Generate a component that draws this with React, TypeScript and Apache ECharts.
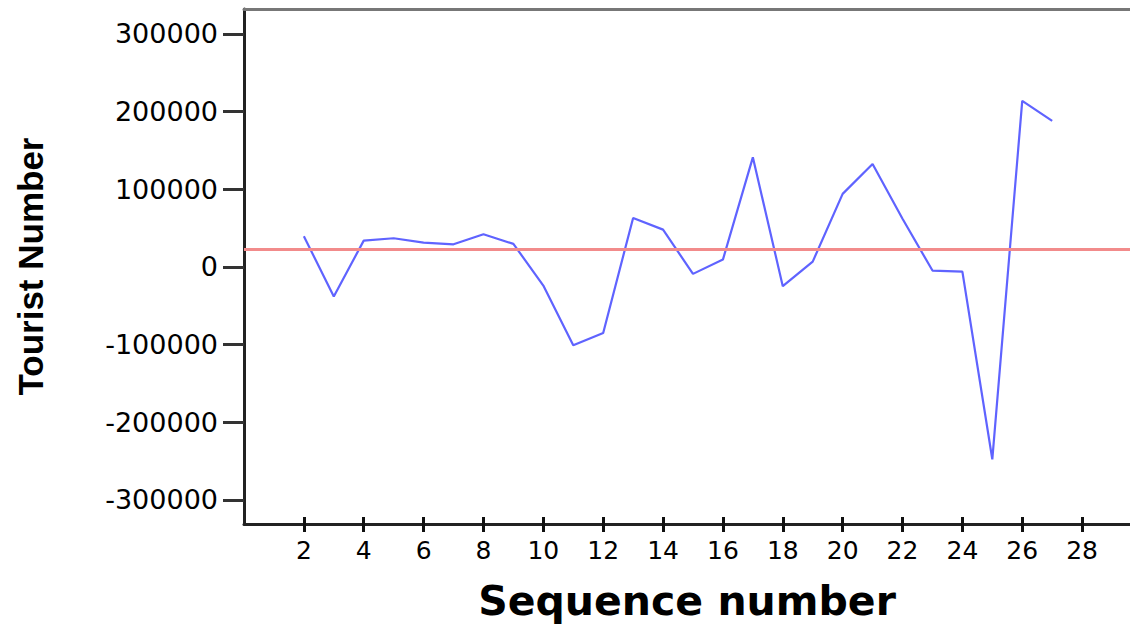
import React, { useEffect, useRef } from "react";
import * as echarts from "echarts";

const sequence = [2, 3, 4, 5, 6, 7, 8, 9, 10, 11, 12, 13, 14, 15, 16, 17, 18, 19, 20, 21, 22, 23, 24, 25, 26, 27];
const tourists = [
  39500, -38000, 33800, 36900, 31300, 29100, 42000, 29600, -24000, -101000,
  -85000, 63000, 48000, -9000, 9400, 141000, -24800, 6800, 94000, 132400,
  62000, -4700, -6000, -247700, 213800, 188000,
];
const meanValue = 23000;
const yTicks = [-300000, -200000, -100000, 0, 100000, 200000, 300000];
const xTicks = [2, 4, 6, 8, 10, 12, 14, 16, 18, 20, 22, 24, 26, 28];

export default function App() {
  const ref = useRef<HTMLDivElement>(null);
  useEffect(() => {
    if (!ref.current) return;
    const chart = echarts.init(ref.current, null, { renderer: "svg" });
    const font = "DejaVu Sans";
    const xMin = 0;
    const xMax = 29.6;
    chart.setOption({
      animation: false,
      backgroundColor: "#ffffff",
      grid: { left: 244, top: 9, right: 0, bottom: 101, containLabel: false },
      xAxis: [
        {
          type: "value",
          position: "bottom",
          min: xMin,
          max: xMax,
          name: "Sequence number",
          nameLocation: "middle",
          nameGap: 56,
          nameTextStyle: { fontFamily: font, fontWeight: "bold", fontSize: 41, color: "#000" },
          axisLine: { show: true, onZero: false, lineStyle: { color: "#222", width: 3 } },
          axisTick: { show: true, inside: false, length: 8, customValues: xTicks, lineStyle: { color: "#111", width: 3 } },
          axisLabel: { show: true, customValues: xTicks, margin: 14, fontFamily: font, fontSize: 25, color: "#000" },
          splitLine: { show: false },
        },
        {
          type: "value",
          position: "bottom",
          min: xMin,
          max: xMax,
          axisLine: { show: false, onZero: false },
          axisTick: { show: true, inside: true, length: 7, customValues: xTicks, lineStyle: { color: "#111", width: 3 } },
          axisLabel: { show: false },
          splitLine: { show: false },
        },
        {
          type: "value",
          position: "top",
          min: xMin,
          max: xMax,
          axisLine: { show: true, onZero: false, lineStyle: { color: "#777", width: 3 } },
          axisTick: { show: false },
          axisLabel: { show: false },
          splitLine: { show: false },
        },
      ],
      yAxis: {
        type: "value",
        min: -331000,
        max: 332000,
        name: "Tourist Number",
        nameLocation: "middle",
        nameGap: 196,
        nameTextStyle: { fontFamily: "Liberation Sans", fontWeight: "bold", fontSize: 35, color: "#000" },
        axisLine: { show: true, onZero: false, lineStyle: { color: "#222", width: 3 } },
        axisTick: { show: true, length: 21, customValues: yTicks, lineStyle: { color: "#333", width: 3 } },
        axisLabel: {
          show: true,
          customValues: yTicks,
          margin: 26,
          fontFamily: font,
          fontSize: 27,
          color: "#000",
          formatter: (v: number) => String(v),
        },
        splitLine: { show: false },
      },
      series: [
        {
          type: "line",
          xAxisIndex: 0,
          data: sequence.map((s, i) => [s, tourists[i]]),
          symbol: "none",
          lineStyle: { color: "#5f63ff", width: 2.2 },
          markLine: {
            silent: true,
            symbol: "none",
            label: { show: false },
            lineStyle: { color: "#f28b8b", width: 3, type: "solid" },
            data: [{ yAxis: meanValue }],
          },
        },
      ],
    });
    return () => chart.dispose();
  }, []);
  return <div ref={ref} style={{ position: "fixed", left: 0, top: 0, width: 1130, height: 626 }} />;
}
